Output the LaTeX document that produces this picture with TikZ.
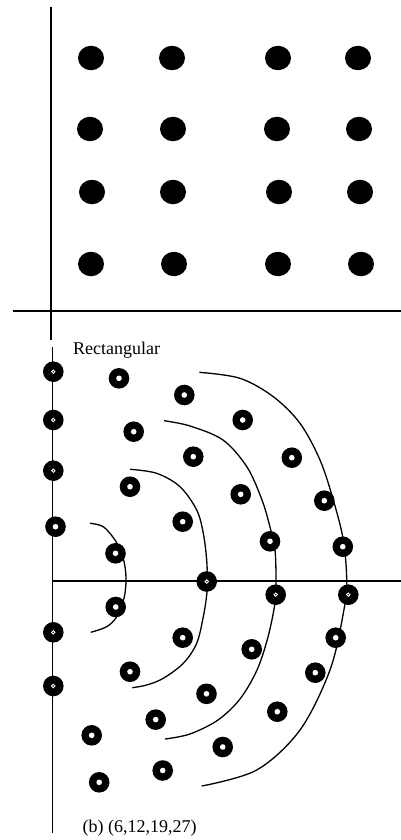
\documentclass[tikz,border=0pt]{standalone}
\usepackage{fontspec}
\setmainfont{Liberation Serif}
\usetikzlibrary{shapes.geometric}
\tikzset{
  axis/.style={line width=1.9pt},
  arcline/.style={line width=1.3pt},
  bigdot/.style={ellipse, fill=black, minimum width=26pt, minimum height=24.5pt, inner sep=0pt},
  ringdot/.style={circle, fill=black, minimum size=20.6pt, inner sep=0pt,
    path picture={\fill[white] (path picture bounding box.center) circle (2.8);}},
  sringdot/.style={circle, fill=black, minimum size=20.6pt, inner sep=0pt,
    path picture={\draw[white, line width=0.9pt] (path picture bounding box.center) circle (1.7);}},
  lbl/.style={anchor=base west, inner sep=0pt, font=\fontsize{18}{20}\selectfont}
}
\begin{document}
\begin{tikzpicture}[x=1pt, y=-1pt]
\useasboundingbox (0,0) rectangle (401,840);
% ---- top panel axes
\coordinate (tv1) at (50.7,7);
\coordinate (tv2) at (50.7,340);
\coordinate (th1) at (12.7,310.7);
\coordinate (th2) at (401,310.7);
\draw[axis] (tv1) -- (tv2);
\draw[axis] (th1) -- (th2);
% ---- top panel dots
\node[bigdot] (t11) at (91,58) {};
\node[bigdot] (t12) at (172,58) {};
\node[bigdot] (t13) at (278,58) {};
\node[bigdot] (t14) at (358,58) {};
\node[bigdot] (t21) at (90,129) {};
\node[bigdot] (t22) at (173,129) {};
\node[bigdot] (t23) at (277,129) {};
\node[bigdot] (t24) at (359,129) {};
\node[bigdot] (t31) at (92,192) {};
\node[bigdot] (t32) at (173,192) {};
\node[bigdot] (t33) at (279,192) {};
\node[bigdot] (t34) at (360,192) {};
\node[bigdot] (t41) at (91,264) {};
\node[bigdot] (t42) at (174,264) {};
\node[bigdot] (t43) at (278,264) {};
\node[bigdot] (t44) at (361,264) {};
% ---- labels
\node[lbl] (rect) at (73,354) {Rectangular};
\node[lbl] (cap) at (82.5,832) {(b) (6,12,19,27)};
% ---- bottom panel axes
\coordinate (bv1) at (52.5,346.7);
\coordinate (bv2) at (52.5,833);
\coordinate (bh1) at (52.5,580.9);
\coordinate (bh2) at (401,580.9);
\draw[axis] (bv1) -- (bv2);
\draw[axis] (bh1) -- (bh2);
% ---- arcs
\draw[arcline] plot[smooth, tension=0.55] coordinates {
  (90,523.3) (103.3,526.7) (115,540) (121.7,553.3) (125,566.7) (126,581)
  (124,598.3) (116.7,616.7) (106.7,626.7) (90.7,632.3)};
\draw[arcline] plot[smooth, tension=0.55] coordinates {
  (130,469.3) (156.7,473.3) (180,486.7) (196.7,510) (203.3,533.3) (206.7,560) (207.3,581)
  (206.7,595) (203.3,616.7) (196.7,643.3) (183.3,663.3) (163.3,678.3) (146.7,685) (132.3,687.7)};
\draw[arcline] plot[smooth, tension=0.55] coordinates {
  (164,420.7) (190,426) (223,440) (247,467) (262,500) (270,527) (275,550) (276,581)
  (275,603) (268,637) (257,670) (240,699) (218,720) (190,734) (165,739)};
\draw[arcline] plot[smooth, tension=0.55] coordinates {
  (199.3,372.3) (240,378.3) (273.3,396.7) (300,423.3) (320,460) (333.3,500) (343.3,540) (346.7,581)
  (343.3,613.3) (330,670) (300,730) (256.7,770) (201.7,786)};
% ---- bottom panel: dots on axes
\node[sringdot] (a1) at (53.3,371.7) {};
\node[sringdot] (a2) at (53.3,420) {};
\node[sringdot] (a3) at (53.3,470.7) {};
\node[ringdot]  (a4) at (55.5,526.7) {};
\node[sringdot] (a5) at (53.3,632.3) {};
\node[sringdot] (a6) at (53.3,686) {};
\node[sringdot] (h1) at (206.7,581.5) {};
\node[sringdot] (h2) at (275.7,594.7) {};
\node[sringdot] (h3) at (348.3,594.7) {};
% ---- bottom panel: upper half ring dots
\node[ringdot] (u1) at (119,378.3) {};
\node[ringdot] (u2) at (184.3,395) {};
\node[ringdot] (u3) at (242.7,420) {};
\node[ringdot] (u4) at (133.7,431.7) {};
\node[ringdot] (u5) at (193.3,456.7) {};
\node[ringdot] (u6) at (291.8,457.7) {};
\node[ringdot] (u7) at (130,486.7) {};
\node[ringdot] (u8) at (240.7,494.3) {};
\node[ringdot] (u9) at (324.3,500.7) {};
\node[ringdot] (u10) at (182.7,521.7) {};
\node[ringdot] (u11) at (270,541.3) {};
\node[ringdot] (u12) at (342.8,546.7) {};
\node[ringdot] (u13) at (115.5,553.3) {};
% ---- bottom panel: lower half ring dots
\node[ringdot] (l1) at (115.7,607) {};
\node[ringdot] (l2) at (182.7,637.7) {};
\node[ringdot] (l3) at (251.7,649.3) {};
\node[ringdot] (l4) at (335.7,637.7) {};
\node[ringdot] (l5) at (130,671.7) {};
\node[ringdot] (l6) at (206.5,693.8) {};
\node[ringdot] (l7) at (315.3,672.7) {};
\node[ringdot] (l8) at (155.7,719.6) {};
\node[ringdot] (l9) at (277.3,711.7) {};
\node[ringdot] (l10) at (91.7,735.3) {};
\node[ringdot] (l11) at (222.7,747) {};
\node[ringdot] (l12) at (162.7,770.5) {};
\node[ringdot] (l13) at (99.2,782.3) {};
\end{tikzpicture}
\end{document}
